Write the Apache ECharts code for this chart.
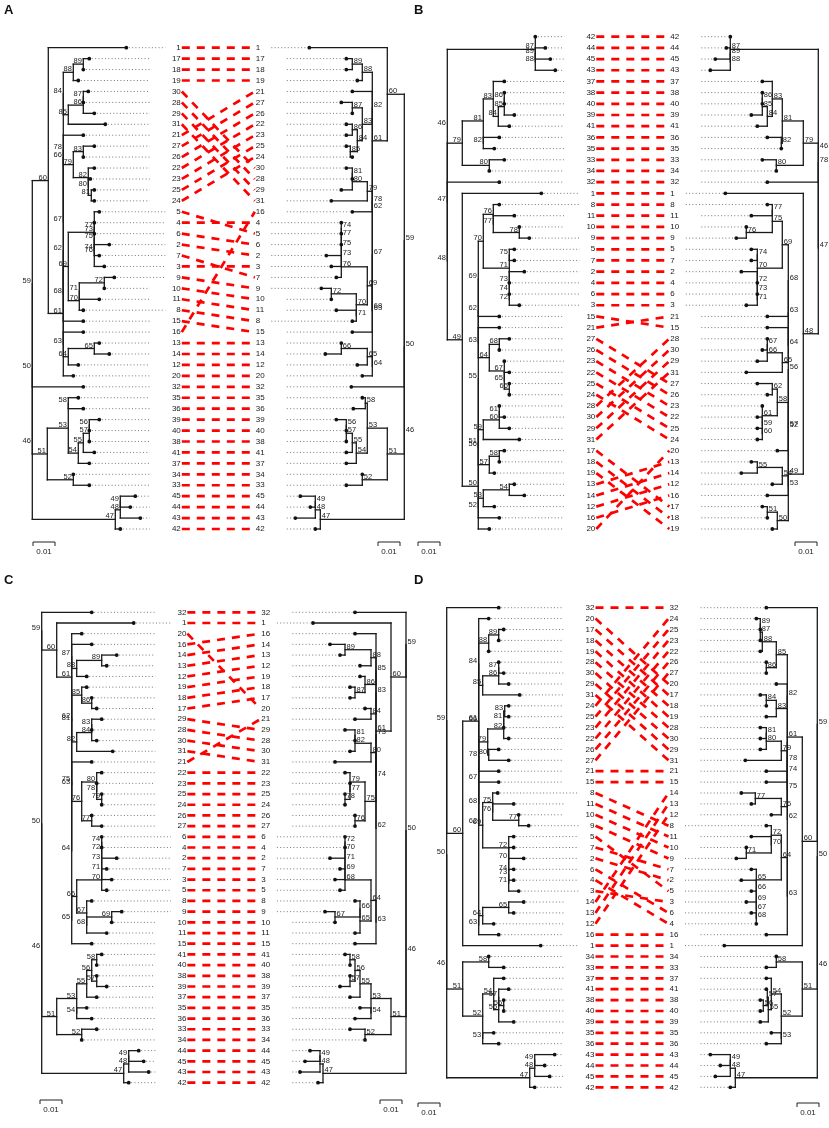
<!DOCTYPE html>
<html>
<head>
<meta charset="utf-8">
<title>Tanglegrams A-D</title>
<script src="https://cdn.jsdelivr.net/npm/echarts@6.0.0/dist/echarts.min.js"></script>
<style>
  html, body { margin: 0; padding: 0; background: #fff; }
  #chart { width: 829px; height: 1128px; }
</style>
</head>
<body>
<div id="chart"></div>
<script>
// leaf order of each dendrogram, top to bottom
var orderA_L = [1,17,18,19,30,28,29,31,21,27,26,22,23,25,24,5,4,6,2,7,3,9,10,11,8,15,16,13,14,12,20,32,35,36,39,40,38,41,37,34,33,45,44,43,42];
var orderA_R = [1,17,18,19,21,27,26,22,23,25,24,30,28,29,31,16,4,5,6,2,3,7,9,10,11,8,15,13,14,12,20,32,35,36,39,40,38,41,37,34,33,45,44,43,42];
var orderB_L = [42,44,45,43,37,38,40,39,41,36,35,33,34,32,1,8,11,10,9,5,7,2,4,6,3,15,21,27,26,23,22,25,24,28,30,29,31,17,18,19,13,14,12,16,20];
var orderB_R = [42,44,45,43,37,38,40,39,41,36,35,33,34,32,1,8,11,10,9,5,7,2,4,6,3,21,15,28,30,29,31,27,26,23,22,25,24,20,13,14,12,16,17,18,19];
var orderC_L = [32,1,20,16,14,13,12,19,18,17,29,28,30,31,21,22,23,25,24,26,27,6,4,2,7,3,5,8,9,10,11,15,41,40,38,39,37,35,36,33,34,44,45,43,42];
var orderC_R = [32,1,16,14,13,12,19,18,17,20,21,29,28,30,31,22,23,25,24,26,27,6,4,2,7,3,5,8,9,10,11,15,41,40,38,39,37,35,36,33,34,44,45,43,42];
var orderD_L = [32,20,17,18,19,28,30,29,31,24,25,23,22,26,27,21,15,8,11,10,9,5,7,2,6,4,3,14,13,12,16,1,34,33,37,41,38,40,39,35,36,43,44,45,42];
var orderD_R = [32,24,25,23,22,26,27,20,17,18,19,28,30,29,31,21,15,14,13,12,8,11,10,9,7,2,5,3,6,4,16,1,34,33,37,41,38,40,39,35,36,43,44,45,42];

// leaf depth from the root, leaves 1..45 (22 units = 0.01)
var depthA_L = [94,77,72,62,67,62,67,51,82,72,67,46,67,77,51,51,57,51,46,41,51,62,58,62,62,51,62,51,62,56,73,51,57,41,46,51,57,57,67,57,62,88,108,98,103];
var depthA_R = [95,78,73,63,63,63,68,52,83,73,68,47,63,79,52,52,58,58,47,42,52,58,58,52,58,52,63,52,63,58,73,53,58,42,42,51,58,58,68,58,58,89,109,94,104];
var depthB_L = [94,77,72,62,67,62,67,52,82,72,67,47,67,77,52,52,57,52,47,42,52,62,57,62,62,52,62,52,62,57,72,52,57,42,47,52,57,57,67,57,62,88,108,98,103];
var depthB_R = [93,77,72,61,67,61,67,51,82,72,67,46,67,77,51,51,56,51,46,41,51,61,56,61,61,51,61,51,61,56,72,51,56,42,37,51,56,56,67,56,61,88,108,92,103];
var depthC_L = [92,75,70,60,65,60,65,50,80,70,65,45,65,75,50,50,55,50,45,40,50,60,55,60,60,50,60,50,60,55,71,50,55,40,45,50,55,55,65,55,60,87,107,97,102];
var depthC_R = [93,76,71,61,66,61,66,51,81,71,51,46,66,76,51,51,56,56,46,41,51,61,56,61,61,51,51,51,61,56,71,51,56,41,46,51,56,56,66,56,61,88,106,96,101];
var depthD_L = [94,77,72,67,67,67,67,51,82,72,67,47,67,77,52,52,57,52,42,42,52,62,57,62,62,52,62,52,62,57,73,52,57,42,47,52,57,57,67,57,62,88,108,98,103];
var depthD_R = [93,76,71,61,66,66,66,51,81,71,66,46,66,76,51,51,57,51,51,41,51,57,57,61,57,51,51,57,57,57,72,51,51,41,46,51,51,57,57,57,51,87,107,97,102];

// internal nodes: [label, depth, first child, second child]; ids <= 45 are leaves
var nodesA_L = [[46,0,50,47],[50,0,59,51],[59,0,60,32],[60,16,1,61],[61,31,62,20],[62,31,66,63],[66,31,84,67],[84,31,88,85],[88,41,89,19],[89,51,17,18],[85,36,86,31],[86,51,87,29],[87,51,30,28],[67,31,78,68],[78,31,21,79],[79,41,83,82],[83,51,27,26],[82,56,22,80],[80,56,23,81],[81,59,25,24],[68,31,69,15],[69,36,73,70],[73,62,5,76],[76,62,75,3],[75,62,77,74],[77,62,4,6],[74,62,2,7],[70,47,71,8],[71,47,72,11],[72,72,9,10],[63,31,16,64],[64,36,65,12],[65,62,13,14],[51,15,53,52],[53,36,58,54],[58,36,35,36],[54,46,55,37],[55,51,57,41],[57,57,56,38],[56,57,39,40],[52,41,34,33],[47,83,48,42],[48,88,49,43],[49,88,45,44]];
var nodesA_R = [[46,0,50,47],[50,0,59,51],[59,0,60,32],[60,17,1,61],[61,32,88,62],[88,42,89,19],[89,52,17,18],[62,32,82,63],[82,32,21,83],[83,42,87,84],[87,52,27,26],[84,47,86,85],[86,52,22,23],[85,54,25,24],[63,32,67,64],[67,32,78,68],[78,32,79,16],[79,37,80,31],[80,52,81,29],[81,52,30,28],[68,32,69,15],[69,37,76,70],[76,63,73,7],[73,63,75,3],[75,63,77,2],[77,63,74,6],[74,63,4,5],[70,48,72,71],[72,73,9,10],[71,48,11,8],[64,32,65,20],[65,37,66,12],[66,63,13,14],[51,17,53,52],[53,37,58,54],[58,39,35,36],[54,48,55,37],[55,52,57,41],[57,58,56,38],[56,58,39,40],[52,42,34,33],[47,84,48,42],[48,89,49,43],[49,89,45,44]];
var nodesB_L = [[46,0,87,47],[87,88,42,88],[88,88,89,43],[89,88,44,45],[47,0,79,48],[79,15,81,80],[81,36,83,82],[83,46,37,84],[84,51,85,41],[85,57,86,39],[86,57,38,40],[82,36,36,35],[80,42,33,34],[48,0,32,49],[49,15,1,50],[50,31,51,20],[51,31,55,52],[55,31,62,56],[62,31,69,63],[69,31,70,15],[70,36,76,71],[76,46,8,77],[77,46,11,78],[78,72,10,9],[71,62,75,73],[75,62,5,7],[73,62,2,74],[74,62,4,72],[72,62,6,3],[63,31,21,64],[64,42,68,67],[68,52,27,26],[67,57,23,65],[65,57,22,66],[66,62,25,24],[56,31,59,57],[59,36,60,31],[60,52,61,29],[61,52,28,30],[57,42,58,19],[58,52,17,18],[52,31,53,16],[53,36,54,12],[54,62,13,14]];
var nodesB_R = [[46,0,87,47],[87,88,42,88],[88,88,89,43],[89,88,44,45],[47,0,78,48],[78,0,79,32],[79,15,81,80],[81,36,83,82],[83,46,37,84],[84,51,85,41],[85,56,86,39],[86,56,38,40],[82,37,36,35],[80,42,33,34],[48,15,1,49],[49,30,52,50],[52,30,56,53],[56,30,63,57],[63,30,68,64],[68,30,69,21],[69,36,75,70],[75,46,77,76],[77,46,8,11],[76,72,10,9],[70,61,74,72],[74,61,5,7],[72,61,2,73],[73,61,4,71],[71,61,6,3],[64,30,15,65],[65,36,66,31],[66,51,67,29],[67,51,28,30],[57,30,58,20],[58,41,62,61],[62,46,27,26],[61,56,23,59],[59,56,22,60],[60,56,25,24],[53,30,54,16],[54,36,55,12],[55,61,13,14],[50,41,51,19],[51,51,17,18]];
var nodesC_L = [[46,0,50,47],[50,0,59,51],[59,0,32,60],[60,15,1,61],[61,30,20,81],[81,30,87,63],[87,30,16,88],[88,35,89,12],[89,60,14,13],[63,30,62,64],[62,30,85,82],[85,40,19,86],[86,50,18,17],[82,35,84,31],[84,50,83,30],[83,50,29,28],[64,30,75,65],[75,30,21,76],[76,40,80,77],[80,55,22,78],[78,55,23,79],[79,60,25,24],[77,50,26,27],[65,30,66,15],[66,35,70,67],[70,60,71,5],[71,60,73,3],[73,60,72,7],[72,60,74,2],[74,60,6,4],[67,45,8,68],[68,45,69,11],[69,70,9,10],[51,15,53,52],[53,35,55,54],[55,45,56,37],[56,50,58,57],[58,55,41,40],[57,55,38,39],[54,35,35,36],[52,40,33,34],[47,82,48,42],[48,87,49,43],[49,87,44,45]];
var nodesC_R = [[46,0,50,47],[50,0,59,51],[59,0,32,60],[60,15,1,61],[61,30,16,62],[62,30,73,63],[73,30,83,74],[83,30,85,84],[85,30,88,86],[88,35,89,12],[89,61,14,13],[86,41,19,87],[87,51,18,17],[84,35,20,21],[74,30,80,75],[80,35,82,31],[82,51,81,30],[81,51,29,28],[75,41,79,76],[79,56,22,77],[77,56,23,78],[78,61,25,24],[76,51,26,27],[63,30,64,15],[64,35,68,65],[68,61,69,5],[69,61,71,3],[71,61,70,7],[70,61,72,2],[72,61,6,4],[65,46,66,11],[66,46,8,67],[67,71,9,10],[51,15,53,52],[53,35,55,54],[55,46,56,37],[56,51,58,57],[58,56,41,40],[57,56,38,39],[54,35,35,36],[52,41,33,34],[47,83,48,42],[48,86,49,43],[49,86,44,45]];
var nodesD_L = [[46,0,50,47],[50,0,59,51],[59,0,32,60],[60,16,61,1],[61,32,20,62],[62,32,66,63],[66,32,84,67],[84,32,88,85],[88,42,89,19],[89,52,17,18],[85,36,86,31],[86,52,87,29],[87,52,28,30],[67,32,78,68],[78,32,79,21],[79,41,82,80],[82,57,81,22],[81,57,83,23],[83,58,24,25],[80,42,26,27],[68,32,15,69],[69,36,75,72],[75,46,8,76],[76,46,11,77],[77,72,10,9],[72,62,5,70],[70,62,7,74],[74,62,2,71],[71,62,73,3],[73,62,6,4],[63,32,64,16],[64,36,65,12],[65,62,14,13],[51,16,58,52],[58,42,34,33],[52,36,54,53],[54,47,37,55],[55,52,57,39],[57,52,41,56],[56,57,38,40],[53,36,35,36],[47,83,48,42],[48,88,49,45],[49,88,43,44]];
var nodesD_R = [[46,0,50,47],[50,0,59,51],[59,0,32,60],[60,15,61,1],[61,30,85,62],[85,41,88,86],[88,55,87,22],[87,57,89,23],[89,57,24,25],[86,51,26,27],[62,30,73,63],[73,30,82,75],[82,30,20,83],[83,41,84,19],[84,51,17,18],[75,30,74,76],[74,30,78,15],[78,30,79,21],[79,36,80,31],[80,51,81,29],[81,51,28,30],[76,36,77,12],[77,62,14,13],[63,30,64,16],[64,36,72,65],[72,46,8,70],[70,46,11,71],[71,71,10,9],[65,61,7,66],[66,61,2,69],[69,61,5,67],[67,61,3,68],[68,61,6,4],[51,15,58,52],[58,41,34,33],[52,36,54,53],[54,46,37,55],[55,49,57,39],[57,50,41,56],[56,54,38,40],[53,36,35,36],[47,82,48,42],[48,87,49,45],[49,87,43,44]];

var SCALE_UNITS = 22;     // length of the 0.01 scale bar in depth units
var SCALE_TEXT = '0.01';

var FONT_LEAF = '8px "Liberation Sans Narrow", "Liberation Sans", Arial, sans-serif';
var FONT_NODE = '7.5px "Liberation Sans Narrow", "Liberation Sans", Arial, sans-serif';

var panels = [
  {name: 'A', oL: orderA_L, oR: orderA_R, dL: depthA_L, dR: depthA_R, nL: nodesA_L, nR: nodesA_R,
   rootL: 32.3, rootR: 404.3, row0: 47.7, row44: 529, barL: 33, barR: 378, barY: 542, lx: 4, ly: 4, hidden: []},
  {name: 'B', oL: orderB_L, oR: orderB_R, dL: depthB_L, dR: depthB_R, nL: nodesB_L, nR: nodesB_R,
   rootL: 447.3, rootR: 818.3, row0: 36.7, row44: 529, barL: 418, barR: 795, barY: 542, lx: 414, ly: 4, hidden: []},
  {name: 'C', oL: orderC_L, oR: orderC_R, dL: depthC_L, dR: depthC_R, nL: nodesC_L, nR: nodesC_R,
   rootL: 41.7, rootR: 406, row0: 612.3, row44: 1082.7, barL: 40, barR: 380, barY: 1100, lx: 4, ly: 574, hidden: []},
  {name: 'D', oL: orderD_L, oR: orderD_R, dL: depthD_L, dR: depthD_R, nL: nodesD_L, nR: nodesD_R,
   rootL: 446.7, rootR: 817.3, row0: 607.7, row44: 1087.3, barL: 418, barR: 797, barY: 1103, lx: 414, ly: 574, hidden: [73]}
];

function drawTree(nodes, depth, order, mirror, W, mid, out, hidden) {
  var byId = {}, isKid = {};
  nodes.forEach(function (n) { byId[n[0]] = n; isKid[n[2]] = true; isKid[n[3]] = true; });
  var root = nodes.filter(function (n) { return !isKid[n[0]]; })[0][0];
  function X(d) { return mirror ? W - d : d; }
  function place(id) {
    if (!byId[id]) {
      var y = order.indexOf(id), x = X(depth[id - 1]);
      var gap = id <= 9 ? 53 : 68.5;
      out.dots.push([x, y]);
      if (mirror) out.dotted.push([mid + gap, y, x - 2.5, y]);
      else out.dotted.push([x + 2.5, y, mid - gap, y]);
      return [x, y];
    }
    var n = byId[id];
    var a = place(n[2]), b = place(n[3]), x = X(n[1]);
    out.segs.push([x, a[1], x, b[1]], [x, a[1], a[0], a[1]], [x, b[1], b[0], b[1]]);
    var yy = (a[1] + b[1]) / 2;
    if (hidden.indexOf(id) < 0) {
      out.nodeText.push({x: x, y: yy, text: String(id), align: mirror ? 'left' : 'right', dx: mirror ? 1.5 : -1.5, dy: 1, va: 'bottom'});
    }
    return [x, yy];
  }
  place(root);
}

function lineSeries(gi, data, style, z) {
  return {
    type: 'custom', xAxisIndex: gi, yAxisIndex: gi, silent: true, z: z,
    data: data, encode: {x: [0, 2], y: [1, 3]},
    renderItem: function (params, api) {
      var a = api.coord([api.value(0), api.value(1)]);
      var b = api.coord([api.value(2), api.value(3)]);
      return {type: 'line', shape: {x1: a[0], y1: a[1], x2: b[0], y2: b[1]}, style: Object.assign({}, style)};
    }
  };
}

function dotSeries(gi, data) {
  return {
    type: 'custom', xAxisIndex: gi, yAxisIndex: gi, silent: true, z: 4,
    data: data, encode: {x: 0, y: 1},
    renderItem: function (params, api) {
      var p = api.coord([api.value(0), api.value(1)]);
      return {type: 'circle', shape: {cx: p[0], cy: p[1], r: 1.9}, style: {fill: '#111'}};
    }
  };
}

function textSeries(gi, items, font, z) {
  return {
    type: 'custom', xAxisIndex: gi, yAxisIndex: gi, silent: true, z: z,
    data: items.map(function (t) { return [t.x, t.y]; }), encode: {x: 0, y: 1},
    renderItem: function (params, api) {
      var t = items[params.dataIndex];
      var p = api.coord([t.x, t.y]);
      return {type: 'text', x: p[0] + (t.dx || 0), y: p[1] + (t.dy || 0),
        style: {text: t.text, fill: '#1a1a1a', font: font, align: t.align, verticalAlign: t.va || 'middle'}};
    }
  };
}

function scaleSeries(gi, bars, dy) {
  return {
    type: 'custom', xAxisIndex: gi, yAxisIndex: gi, silent: true, z: 5,
    data: bars, encode: {x: 0, y: 1},
    renderItem: function (params, api) {
      var a = api.coord([api.value(0), 44]);
      var b = api.coord([api.value(0) + SCALE_UNITS, 44]);
      var y = a[1] + dy;
      return {type: 'group', children: [
        {type: 'polyline', shape: {points: [[a[0], y + 4], [a[0], y], [b[0], y], [b[0], y + 4]]},
         style: {stroke: '#222', lineWidth: 1, fill: null}},
        {type: 'text', x: (a[0] + b[0]) / 2, y: y + 10,
         style: {text: SCALE_TEXT, fill: '#222', font: '8px "Liberation Sans", Arial, sans-serif', align: 'center', verticalAlign: 'middle'}}
      ]};
    }
  };
}

var grids = [], xAxes = [], yAxes = [], series = [], graphics = [];
panels.forEach(function (p, gi) {
  var W = p.rootR - p.rootL, mid = W / 2;
  var out = {segs: [], dotted: [], dots: [], red: [], leafText: [], nodeText: []};
  drawTree(p.nL, p.dL, p.oL, false, W, mid, out, []);
  drawTree(p.nR, p.dR, p.oR, true, W, mid, out, p.hidden);
  p.oL.forEach(function (id, i) {
    out.red.push([mid - 36.5, i, mid + 36.5, p.oR.indexOf(id)]);
    out.leafText.push({x: mid - 37.5, y: i, text: String(id), align: 'right'});
  });
  p.oR.forEach(function (id, j) {
    out.leafText.push({x: mid + 37.5, y: j, text: String(id), align: 'left'});
  });

  grids.push({left: p.rootL, top: p.row0, width: W, height: p.row44 - p.row0});
  xAxes.push({type: 'value', gridIndex: gi, min: 0, max: W, show: false});
  yAxes.push({type: 'value', gridIndex: gi, min: 0, max: 44, inverse: true, show: false});

  series.push(lineSeries(gi, out.dotted, {stroke: '#555', lineWidth: 0.8, lineDash: [1, 2.3]}, 1));
  series.push(lineSeries(gi, out.segs, {stroke: '#1a1a1a', lineWidth: 1.3, lineCap: 'square'}, 2));
  series.push(dotSeries(gi, out.dots));
  series.push(lineSeries(gi, out.red, {stroke: '#ff0000', lineWidth: 2.7, lineDash: [8, 7]}, 3));
  series.push(textSeries(gi, out.leafText, FONT_LEAF, 6));
  series.push(textSeries(gi, out.nodeText, FONT_NODE, 6));
  series.push(scaleSeries(gi, [[p.barL - p.rootL, 44], [p.barR - p.rootL, 44]], p.barY - p.row44));

  graphics.push({type: 'text', left: p.lx, top: p.ly,
    style: {text: p.name, fill: '#111', font: 'bold 13px "Liberation Sans", Arial, sans-serif'}});
});

var chart = echarts.init(document.getElementById('chart'));
chart.setOption({
  animation: false,
  backgroundColor: '#fff',
  grid: grids,
  xAxis: xAxes,
  yAxis: yAxes,
  series: series,
  graphic: graphics
});
</script>
</body>
</html>
